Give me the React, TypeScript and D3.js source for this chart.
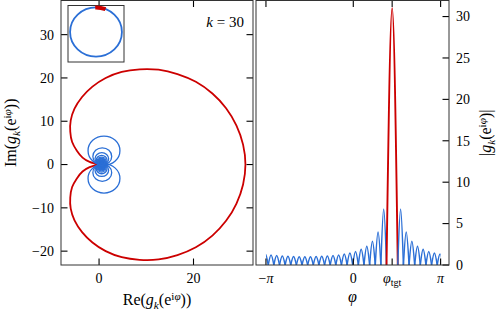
import React from "react";
import * as d3 from "d3";

const W = 498;
const H = 310;
const RED = "#cc0000";
const BLUE = "#2b6fd6";
const FONT = "'Liberation Serif', 'DejaVu Serif', serif";

const kOrder = 30;
// target angle, in units of pi
const phiTgt = 0.445;

// zeros of |g_k| on the right panel, in units of pi (left to right)
const phiZeros = [
  -1.0385, -0.974, -0.9095, -0.845, -0.7805, -0.716, -0.6515, -0.587, -0.5225, -0.458,
  -0.3935, -0.329, -0.2645, -0.2, -0.1355, -0.071, -0.0065, 0.058, 0.1225, 0.187,
  0.2515, 0.316, 0.3805, 0.5095, 0.574, 0.6385, 0.703, 0.7675, 0.832, 0.8965, 0.961, 1.0255,
];
// peak of each lobe between two consecutive zeros
const lobePeaks = [
  1.32, 1.22, 1.14, 1.09, 1.05, 1.02, 1.0, 1.0, 1.0, 1.02, 1.05, 1.09, 1.14, 1.22, 1.32,
  1.45, 1.63, 1.89, 2.27, 2.88, 3.99, 6.75, 31, 6.75, 3.99, 2.88, 2.27, 1.89, 1.63, 1.45, 1.32,
];
const mainLobe = 22;
// direction (deg) of each side-lobe loop on the complex plane (null: not drawn)
const loopAngle = [
  null, 35, 29, 23, 17.5, 11.5, 6, 0, -6, -11.5, -17.5, -23, -29, -34, -40,
  -45, -51, -56, -61, -66, -70, -72, null, 72, 70, 66, 61, 56, 51, 45, 40,
];

// main lobe traced on the complex plane
const mainRe = [
  0, -2.0, -3.5, -4.7, -5.7, -6.1, -6.0, -5.2, -3.6, -1.4, 1.4, 4.8, 8.6, 12.6, 16.6, 20.5, 24.0, 26.9, 29.1, 30.5,
  31.0, 30.5, 29.1, 26.9, 24.0, 20.5, 16.6, 12.6, 8.6, 4.8, 1.4, -1.4, -3.6, -5.2, -6.0, -6.1, -5.7, -4.7, -3.5, -2.0, 0,
];
const mainIm = [
  0, 0.6, 1.6, 3.2, 5.2, 7.6, 10.2, 12.9, 15.6, 18.0, 20.0, 21.4, 22.0, 21.9, 20.9, 19.1, 16.4, 13.0, 9.0, 4.6,
  0, -4.6, -9.0, -13.0, -16.4, -19.1, -20.9, -21.9, -22.0, -21.4, -20.0, -18.0, -15.6, -12.9, -10.2, -7.6, -5.2, -3.2, -1.6, -0.6, 0,
];

const leftXTicks = [0, 20];
const leftYTicks = [-20, -10, 0, 10, 20, 30];
const rightXTicks = [-1, 0, phiTgt, 1];
const rightXLabels = ["−π", "0", "tgt", "π"];
const rightYTicks = [0, 5, 10, 15, 20, 25, 30];

const TICK = 6.5;
const TFS = 14; // tick labels
const AFS = 16; // axis labels

function fmt(v: number) {
  return v < 0 ? "−" + Math.abs(v) : String(v);
}

function GArg() {
  return (
    <>
      <tspan fontStyle="italic">g</tspan>
      <tspan fontStyle="italic" fontSize="70%" dy={3.5}>k</tspan>
      <tspan dy={-3.5}>(e</tspan>
      <tspan fontSize="70%" dy={-5}>i</tspan>
      <tspan fontSize="70%" fontStyle="italic">φ</tspan>
      <tspan dy={5}>)</tspan>
    </>
  );
}

export default function App() {
  const lx = d3.scaleLinear().domain([-8.06, 32.6]).range([61, 253]);
  const ly = d3.scaleLinear().domain([-23.2, 38.0]).range([265, 0]);
  const rx = d3.scaleLinear().domain([-1.114, 1.096]).range([256, 449]);
  const ry = d3.scaleLinear().domain([0, 32]).range([265, 0]);
  const ix = d3.scaleLinear().domain([-1.08, 1.08]).range([68, 124]);
  const iy = d3.scaleLinear().domain([-1.22, 1.08]).range([62, 5.5]);

  const mainLine = d3
    .line<number>()
    .x((_, i) => lx(mainRe[i]))
    .y((_, i) => ly(mainIm[i]))
    .curve(d3.curveCatmullRom);

  const lobeLine = d3
    .line<[number, number]>()
    .x((d) => rx(d[0]))
    .y((d) => ry(d[1]))
    .curve(d3.curveNatural);

  const lobes = lobePeaks.map((p, i) => {
    const z0 = phiZeros[i];
    const z1 = phiZeros[i + 1];
    return { d: lobeLine([[z0, 0], [(z0 + z1) / 2, p], [z1, 0]]), main: i === mainLobe };
  });

  const loops = lobePeaks
    .map((p, i) => ({ p, a: loopAngle[i] }))
    .filter((d) => d.a !== null)
    .map((d) => {
      const r = d.p / 2;
      const a = ((d.a as number) * Math.PI) / 180;
      return {
        cx: lx(r * Math.cos(a)),
        cy: ly(r * Math.sin(a)),
        rx: lx(r) - lx(0),
        ry: ly(0) - ly(r),
      };
    });

  // inset: unit circle with the main-lobe arc
  const half = (phiZeros[mainLobe + 1] - phiZeros[mainLobe]) / 2;
  const a1 = (phiTgt - half) * Math.PI;
  const a2 = (phiTgt + half) * Math.PI;
  const irx = ix(1) - ix(0);
  const iry = iy(0) - iy(1);
  const arc = `M${ix(Math.cos(a1))},${iy(Math.sin(a1))} A${irx},${iry} 0 0 0 ${ix(Math.cos(a2))},${iy(Math.sin(a2))}`;

  const [L0, L1] = lx.range();
  const [R0, R1] = rx.range();
  const top = 0.5;
  const bottom = 265;

  return (
    <svg width={W} height={H} style={{ display: "block", position: "absolute", left: 0, top: 0, background: "#fff" }} fontFamily={FONT}>
      <defs>
        <clipPath id="clipL">
          <rect x={L0} y={top} width={L1 - L0} height={bottom - top} />
        </clipPath>
        <clipPath id="clipR">
          <rect x={rx(-1)} y={top} width={rx(1) - rx(-1)} height={bottom - top} />
        </clipPath>
      </defs>

      {/* left panel */}
      <g clipPath="url(#clipL)">
        <path d={mainLine(mainRe) || ""} fill="none" stroke={RED} strokeWidth={1.8} />
        {loops.map((c, i) => (
          <ellipse key={i} cx={c.cx} cy={c.cy} rx={c.rx} ry={c.ry} fill="none" stroke={BLUE} strokeWidth={1.3} />
        ))}
      </g>
      {leftYTicks.map((v) => (
        <g key={v}>
          <line x1={L0} x2={L0 + TICK} y1={ly(v)} y2={ly(v)} stroke="#000" strokeWidth={1.1} />
          <line x1={L1} x2={L1 - TICK} y1={ly(v)} y2={ly(v)} stroke="#000" strokeWidth={1.1} />
          <text x={L0 - 7} y={ly(v)} dy="0.35em" textAnchor="end" fontSize={TFS}>{fmt(v)}</text>
        </g>
      ))}
      {leftXTicks.map((v) => (
        <g key={v}>
          <line x1={lx(v)} x2={lx(v)} y1={bottom} y2={bottom - TICK} stroke="#000" strokeWidth={1.1} />
          <line x1={lx(v)} x2={lx(v)} y1={top} y2={top + TICK} stroke="#000" strokeWidth={1.1} />
          <text x={lx(v)} y={283} textAnchor="middle" fontSize={TFS}>{fmt(v)}</text>
        </g>
      ))}
      <rect x={L0} y={top} width={L1 - L0} height={bottom - top} fill="none" stroke="#333" strokeWidth={1} />
      <text x={244} y={27} textAnchor="end" fontSize={15}>
        <tspan fontStyle="italic">k</tspan> = {kOrder}
      </text>

      {/* inset */}
      <rect x={ix.range()[0]} y={iy.range()[1]} width={ix.range()[1] - ix.range()[0]} height={iy.range()[0] - iy.range()[1]} fill="#fff" stroke="#333" strokeWidth={1} />
      <ellipse cx={ix(0)} cy={iy(0)} rx={irx} ry={iry} fill="none" stroke={BLUE} strokeWidth={1.8} />
      <path d={arc} fill="none" stroke={RED} strokeWidth={4} />

      {/* right panel */}
      <g clipPath="url(#clipR)">
        {lobes.map((l, i) => (
          <path key={i} d={l.d || ""} fill="none" stroke={l.main ? RED : BLUE} strokeWidth={l.main ? 1.9 : 1.5} />
        ))}
      </g>
      {rightYTicks.map((v) => (
        <g key={v}>
          <line x1={R1} x2={R1 - TICK} y1={ry(v)} y2={ry(v)} stroke="#000" strokeWidth={1.1} />
          <text x={R1 + 7} y={ry(v)} dy="0.35em" textAnchor="start" fontSize={TFS}>{v}</text>
        </g>
      ))}
      {rightXTicks.map((v, i) => (
        <g key={i}>
          <line x1={rx(v)} x2={rx(v)} y1={bottom} y2={bottom - TICK} stroke="#000" strokeWidth={1.1} />
          <line x1={rx(v)} x2={rx(v)} y1={top} y2={top + TICK} stroke="#000" strokeWidth={1.1} />
          <text x={rx(v)} y={283} textAnchor="middle" fontSize={TFS}>
            {rightXLabels[i] === "tgt" ? (
              <>
                <tspan fontStyle="italic">φ</tspan>
                <tspan fontSize="72%" dy={3}>tgt</tspan>
              </>
            ) : rightXLabels[i] === "0" ? (
              "0"
            ) : (
              <>
                {rightXLabels[i].startsWith("−") ? "−" : ""}
                <tspan fontStyle="italic">π</tspan>
              </>
            )}
          </text>
        </g>
      ))}
      <rect x={R0} y={top} width={R1 - R0} height={bottom - top} fill="none" stroke="#333" strokeWidth={1} />

      {/* axis labels */}
      <text x={(L0 + L1) / 2} y={305} textAnchor="middle" fontSize={AFS}>
        Re(<GArg />)
      </text>
      <text transform={`translate(16,${(top + bottom) / 2}) rotate(-90)`} textAnchor="middle" fontSize={AFS}>
        Im(<GArg />)
      </text>
      <text x={(R0 + R1) / 2} y={302} textAnchor="middle" fontSize={AFS} fontStyle="italic">φ</text>
      <text transform={`translate(491,${(top + bottom) / 2}) rotate(-90)`} textAnchor="middle" fontSize={AFS}>
        |<GArg />|
      </text>
    </svg>
  );
}
